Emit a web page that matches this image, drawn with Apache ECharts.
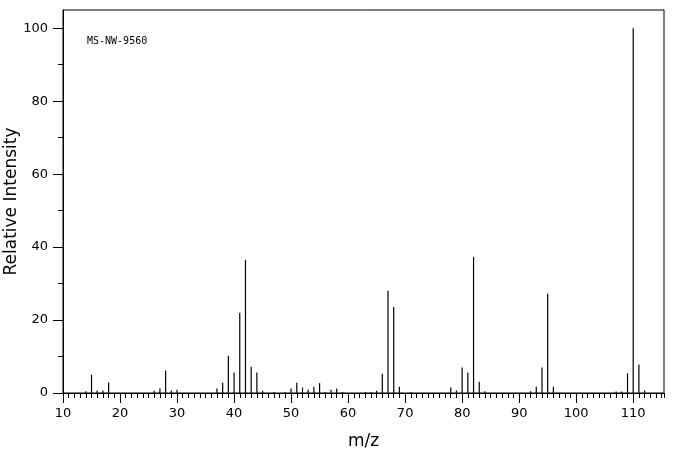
<!DOCTYPE html>
<html>
<head>
<meta charset="utf-8">
<title>MS-NW-9560</title>
<script src="https://cdn.jsdelivr.net/npm/echarts@6/dist/echarts.min.js"></script>
<style>
  html, body { margin: 0; padding: 0; background: #fff; }
  #chart { width: 676px; height: 455px; }
</style>
</head>
<body>
<div id="chart"></div>
<script>
// peaks
var mz = [14, 15, 16, 17, 18, 26, 27, 28, 29, 30, 37, 38, 39, 40, 41, 42, 43, 44, 45, 47, 49,
          50, 51, 52, 53, 54, 55, 56, 57, 58, 59, 63, 64, 65, 66, 67, 68, 69, 71, 78, 79,
          80, 81, 82, 83, 84, 92, 93, 94, 95, 96, 107, 108, 109, 110, 111, 112];
var intensity = [0.5, 5.0, 0.7, 0.7, 2.9, 0.6, 1.2, 6.2, 0.7, 0.9, 1.2, 2.8, 10.2, 5.6, 22.0, 36.5, 7.2, 5.6, 0.6, 0.3, 0.3,
                 1.2, 2.8, 1.5, 0.9, 1.7, 2.7, 0.3, 0.9, 1.2, 0.3, 0.3, 0.3, 0.6, 5.3, 28.0, 23.6, 1.7, 0.3, 1.5, 0.7,
                 7.0, 5.6, 37.3, 3.1, 0.5, 0.5, 1.7, 7.0, 27.2, 1.7, 0.4, 0.4, 5.4, 100, 7.8, 0.7];
var xTicks = [10, 20, 30, 40, 50, 60, 70, 80, 90, 100, 110];
var yTicks = [0, 20, 40, 60, 80, 100];
var yMinorTicks = [10, 30, 50, 70, 90];
var sampleId = 'MS-NW-9560';

var font = 'DejaVu Sans';
var chart = echarts.init(document.getElementById('chart'));

var peaks = [];
for (var i = 0; i < mz.length; i++) {
    peaks.push([mz[i], intensity[i]]);
}

var option = {
    animation: false,
    grid: {
        left: 63, top: 10, right: 12, bottom: 62,
        outerBoundsMode: 'none', containLabel: false,
        show: true, borderColor: '#000', borderWidth: 1
    },
    graphic: [{
        type: 'text', left: 87, top: 36,
        style: { text: sampleId, font: '10px "DejaVu Sans Mono"', fill: '#000' }
    }],
    xAxis: [
        {
            type: 'value', min: 10, max: 115.4,
            name: 'm/z', nameLocation: 'middle', nameGap: 40, nameMoveOverlap: false,
            nameTextStyle: { fontFamily: font, fontSize: 17, color: '#000' },
            splitLine: { show: false },
            axisLine: { lineStyle: { color: '#000' } },
            axisTick: { customValues: xTicks, length: 10, lineStyle: { color: '#000' } },
            axisLabel: { customValues: xTicks, fontFamily: font, fontSize: 13, color: '#000', margin: 14 }
        },
        {
            type: 'value', min: 10, max: 115.4, interval: 1, position: 'bottom',
            splitLine: { show: false },
            axisLine: { show: false },
            axisTick: { length: 5, lineStyle: { color: '#000' } },
            axisLabel: { show: false }
        }
    ],
    yAxis: [
        {
            type: 'value', min: 0, max: 105,
            name: 'Relative Intensity', nameLocation: 'middle', nameGap: 43, nameMoveOverlap: false,
            nameTextStyle: { fontFamily: font, fontSize: 17, color: '#000' },
            splitLine: { show: false },
            axisLine: { show: true, lineStyle: { color: '#000' } },
            axisTick: { show: true, customValues: yTicks, length: 10, lineStyle: { color: '#000' } },
            axisLabel: { customValues: yTicks, fontFamily: font, fontSize: 13, color: '#000', margin: 15 }
        },
        {
            type: 'value', min: 0, max: 105, position: 'left',
            splitLine: { show: false },
            axisLine: { show: false },
            axisTick: { show: true, customValues: yMinorTicks, length: 5, lineStyle: { color: '#000' } },
            axisLabel: { show: false }
        }
    ],
    series: [{
        type: 'bar',
        xAxisIndex: 0, yAxisIndex: 0,
        barWidth: 1.2,
        itemStyle: { color: '#000' },
        data: peaks
    }]
};
chart.setOption(option);
</script>
</body>
</html>
